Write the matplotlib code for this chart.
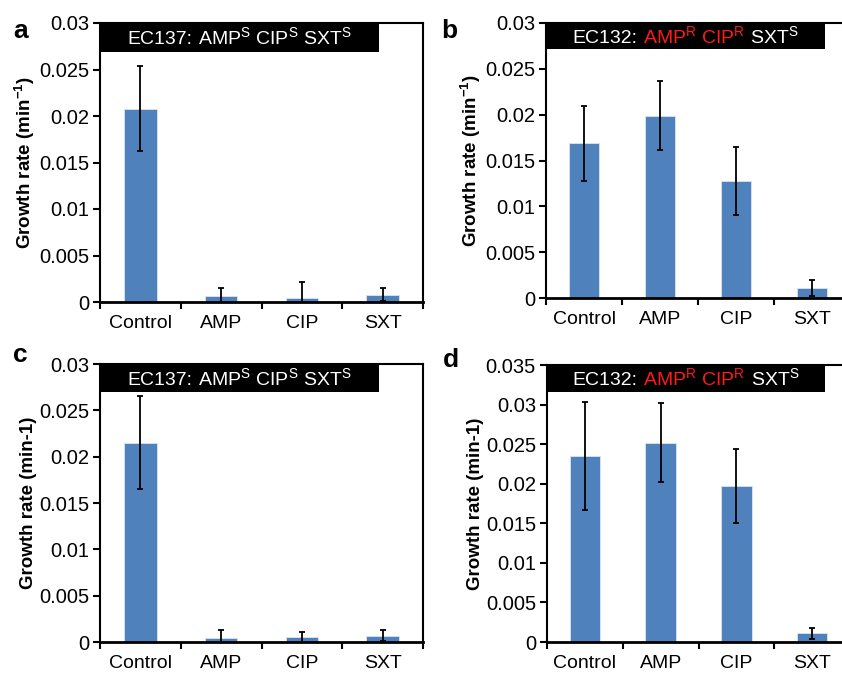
import matplotlib
matplotlib.use('Agg')
import matplotlib.pyplot as plt
from matplotlib.patches import Rectangle
from matplotlib.offsetbox import TextArea, HPacker, AnchoredOffsetbox
from matplotlib.ticker import FormatStrFormatter, MultipleLocator

plt.rcParams['font.family'] = ['Liberation Sans', 'DejaVu Sans']
plt.rcParams['mathtext.default'] = 'regular'

categories = ['Control', 'AMP', 'CIP', 'SXT']

# growth rates (1/min) and error bar half-lengths
rate_a = [0.0208, 0.0006, 0.0004, 0.0008]
err_a = [0.0046, 0.0009, 0.0018, 0.0007]
rate_b = [0.0169, 0.0199, 0.0128, 0.0011]
err_b = [0.0041, 0.0038, 0.0037, 0.0009]
rate_c = [0.0215, 0.0004, 0.0005, 0.0007]
err_c = [0.0050, 0.0009, 0.0006, 0.0006]
rate_d = [0.0235, 0.0252, 0.0197, 0.0011]
err_d = [0.0068, 0.0050, 0.0047, 0.0007]

ymax = {'a': 0.03, 'b': 0.03, 'c': 0.03, 'd': 0.035}
ylabels = {
    'a': r'Growth rate (min$^{\mathregular{-1}}$)',
    'b': r'Growth rate (min$^{\mathregular{-1}}$)',
    'c': 'Growth rate (min-1)',
    'd': 'Growth rate (min-1)',
}
# strain title pieces: (text, colour)
title_sens = [('EC137:', 'white'),
              (r'AMP$^{S}$ CIP$^{S}$ SXT$^{S}$', 'white')]
title_res = [('EC132:', 'white'),
             (r'AMP$^{R}$ CIP$^{R}$', '#ff1a1a'),
             (r'SXT$^{S}$', 'white')]

BLUE = '#4f81bd'
W, H = 842, 674

fig = plt.figure(figsize=(W / 100, H / 100), dpi=100)


def px_axes(l, t, r, b):
    return fig.add_axes([l / W, 1 - b / H, (r - l) / W, (b - t) / H])


panels = [
    ('a', px_axes(100, 23, 423, 302), rate_a, err_a, title_sens, 0.865, 0.104),
    ('b', px_axes(546, 23, 850, 298), rate_b, err_b, title_res, 0.918, 0.095),
    ('c', px_axes(100, 364, 423, 642), rate_c, err_c, title_sens, 0.865, 0.100),
    ('d', px_axes(547, 365, 850, 642), rate_d, err_d, title_res, 0.916, 0.097),
]

letter_pos = {'a': (13, 38), 'b': (441, 38), 'c': (13, 362), 'd': (443, 367)}

for key, ax, vals, errs, pieces, bw, bh in panels:
    x = range(len(categories))
    ax.bar(x, vals, width=0.4, color=BLUE, edgecolor='#dbe5f1', linewidth=0.6,
           zorder=2)
    ax.errorbar(x, vals, yerr=errs, fmt='none', ecolor='black', elinewidth=1.3,
                capsize=2, capthick=1.3, zorder=3)
    ax.set_xlim(-0.5, 3.5)
    ax.set_ylim(0, ymax[key])
    ax.yaxis.set_major_locator(MultipleLocator(0.005))
    ax.yaxis.set_major_formatter(FormatStrFormatter('%g'))
    ax.set_xticks(list(x))
    ax.set_xticklabels(categories)
    ax.set_xticks([-0.5, 0.5, 1.5, 2.5, 3.5], minor=True)
    ax.tick_params(axis='x', which='major', length=0, pad=9, labelsize=14)
    ax.tick_params(axis='x', which='minor', length=5, width=1.5, direction='out')
    ax.tick_params(axis='y', length=5, width=1.5, direction='out', pad=3,
                   labelsize=14.5)
    for s in ax.spines.values():
        s.set_linewidth(1.5)
    ax.spines['bottom'].set_linewidth(2)
    ax.set_ylabel(ylabels[key], fontsize=13.5, fontweight='bold', labelpad=1)

    # black strain banner at the top of the panel
    ax.add_patch(Rectangle((0, 1 - bh), bw, bh, transform=ax.transAxes,
                           facecolor='black', edgecolor='none', zorder=5,
                           clip_on=False))
    areas = [TextArea(t, textprops=dict(color=c, fontsize=14)) for t, c in pieces]
    pack = HPacker(children=areas, align='baseline', pad=0, sep=4)
    anchored = AnchoredOffsetbox(loc='center', child=pack, frameon=False, pad=0,
                                 borderpad=0, bbox_to_anchor=(bw / 2, 1 - bh / 2),
                                 bbox_transform=ax.transAxes)
    anchored.set_zorder(6)
    ax.add_artist(anchored)

    lx, ly = letter_pos[key]
    fig.text(lx / W, 1 - ly / H, key, fontsize=19, fontweight='bold',
             ha='left', va='baseline')

fig.savefig('out.png', dpi=100)
